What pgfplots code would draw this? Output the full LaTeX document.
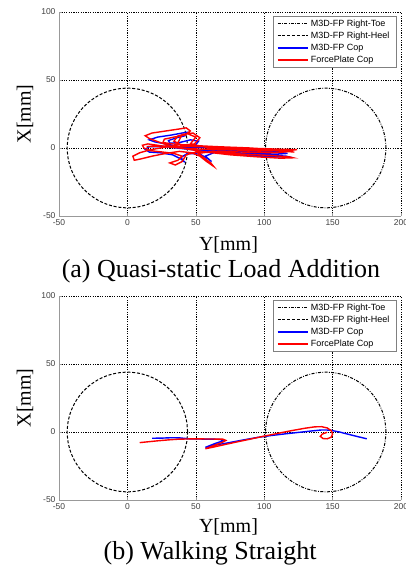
\documentclass[border=0pt]{standalone}
\usepackage{fontspec}
\setmainfont{Liberation Serif}
\setsansfont{Liberation Sans}
\usepackage{pgfplots}
\pgfplotsset{compat=1.18}

% circle outlines of the two sensors (radius 44 mm)
\pgfplotstableread{
x y
44 0
43.33 7.64
41.35 15.05
38.11 22
33.71 28.28
28.28 33.71
22 38.11
15.05 41.35
7.64 43.33
0 44
-7.64 43.33
-15.05 41.35
-22 38.11
-28.28 33.71
-33.71 28.28
-38.11 22
-41.35 15.05
-43.33 7.64
-44 0
-43.33 -7.64
-41.35 -15.05
-38.11 -22
-33.71 -28.28
-28.28 -33.71
-22 -38.11
-15.05 -41.35
-7.64 -43.33
0 -44
7.64 -43.33
15.05 -41.35
22 -38.11
28.28 -33.71
33.71 -28.28
38.11 -22
41.35 -15.05
43.33 -7.64
44 0
}\heel
\pgfplotstableread{
x y
189 0
188.33 7.64
186.35 15.05
183.11 22
178.71 28.28
173.28 33.71
167 38.11
160.05 41.35
152.64 43.33
145 44
137.36 43.33
129.95 41.35
123 38.11
116.72 33.71
111.29 28.28
106.89 22
103.65 15.05
101.67 7.64
101 0
101.67 -7.64
103.65 -15.05
106.89 -22
111.29 -28.28
116.72 -33.71
123 -38.11
129.95 -41.35
137.36 -43.33
145 -44
152.64 -43.33
160.05 -41.35
167 -38.11
173.28 -33.71
178.71 -28.28
183.11 -22
186.35 -15.05
188.33 -7.64
189 0
}\toe

\pgfplotsset{
  footplot/.style={
    scale only axis, width=342pt, height=204pt,
    xmin=-50, xmax=200, ymin=-50, ymax=100,
    xtick={-50,0,50,100,150,200}, xticklabels={-50,0,50,100,150,200},
    ytick={-50,0,50,100}, yticklabels={-50,0,50,100},
    axis lines=left, axis line style={-, gray!80, line width=0.6pt},
    grid=major, grid style={black, line width=0.5pt, dash pattern=on 1.2pt off 1.2pt},
    tick align=inside, major tick length=3pt, tick style={gray!80, line width=0.5pt},
    tick label style={font=\sffamily\fontsize{8.5}{10}\selectfont, text=black!75},
    xlabel={Y[mm]}, ylabel={X[mm]},
    label style={font=\fontsize{20}{22}\selectfont},
    ylabel style={at={(axis description cs:-0.0994,0.5)}, anchor=center},
    title style={font=\fontsize{26}{28}\selectfont, anchor=base, yshift=0pt},
    legend style={at={(1,1)}, anchor=north east, xshift=-5pt, yshift=-4pt,
      draw=gray, font=\sffamily\fontsize{9}{10}\selectfont, row sep=0pt,
      inner xsep=4pt, inner ysep=1.5pt,
      nodes={inner xsep=2.5pt, inner ysep=1.8pt, text height=6.6pt, text depth=1.9pt}},
    legend cell align=left,
    legend image code/.code={\draw[##1] (0pt,0pt) -- (30pt,0pt);},
  },
}

\begin{document}
\begin{tikzpicture}
\useasboundingbox (0,0) rectangle (406pt,568pt);

\begin{axis}[footplot, at={(59pt,352pt)}, anchor=south west,
  xlabel style={at={(axis description cs:0.4956,-0.1667)}, anchor=base},
  title={(a) Quasi-static Load Addition},
  title style={at={(axis description cs:0.4737,-0.33)}}]
\addplot[black, line width=1pt, smooth, dash pattern=on 3pt off 1.4pt on 0.8pt off 1.4pt] table {\toe};
\addplot[black, line width=1pt, smooth, dash pattern=on 3pt off 1.8pt] table {\heel};
\addplot[blue, line width=1.4pt] coordinates {
(15,1) (30,1) (50,0.5) (75,0) (100,-1) (117,-2) (110,-2.8) (90,-2.5) (68,-2)
(50,-1.5) (36,0) (24,1.5) (16,1) (13,-1) (16,-3) (24,-3.5) (33,-5) (39,-8)
(42,-10.5) (39,-7) (44,-4) (53,-4.5) (59,-8) (61.5,-10) (57,-6) (63,-3.5)
(80,-4) (100,-5) (116,-6) (118,-6.5) (108,-6.5) (88,-5.5) (68,-3.5) (52,-1.5)
(40,0.5) (28,3) (20,4.5) (16,6) (22,8) (32,9.5) (40,11) (43.5,11.5) (42,9)
(36,7.5) (30,5.5) (31,3.5) (38,4) (46,6) (52,5) (50,2.5) (44,1.5) (60,0)
(85,-1.5) (105,-2.5) (117,-4) (110,-4.5) (90,-4) (70,-3)};
\addplot[red, line width=1.4pt] coordinates {
(14,1) (25,1.5) (40,1.2) (60,0.8) (80,0.2) (100,-0.5) (115,-1) (124,-1.2)
(117,-2) (100,-2) (80,-1.5) (60,-1) (45,-0.5) (32,0.5) (22,2) (15,3) (11,2)
(12,0) (17,-2) (26,-3) (34,-4) (40,-6) (37,-9) (31,-11) (35,-12.5) (40,-10)
(43,-5) (50,-3) (65,-3.5) (85,-4.5) (105,-5.5) (118,-6.5) (121,-7.2) (112,-7.5)
(95,-6.5) (75,-5) (58,-3) (45,-1) (33,1) (24,4) (16,7) (13,9) (18,11)
(28,12.5) (38,14) (43,14.8) (46,12.5) (42,9.5) (34,8) (27,6.5) (26,4) (33,3)
(45,2) (65,1) (90,0) (110,-1.5) (120,-2.5) (108,-3.5) (85,-3) (62,-2.5)
(52,-4) (57,-8) (61,-11) (63,-13.5) (58,-10) (53,-6) (47,-3.5) (38,-2.5)
(28,-4) (18,-6) (10,-8) (5,-9) (4,-6) (9,-3.5) (16,-1.5) (24,0) (36,2)
(38,6) (40,10) (48,11) (53,7.5) (49,3) (40,2) (34,5) (37,9) (44,10.5)
(50,8) (46,3) (60,0) (85,-1) (110,-2) (122,-3)};
\legend{M3D-FP Right-Toe, M3D-FP Right-Heel, M3D-FP Cop, ForcePlate Cop}
\end{axis}

\begin{axis}[footplot, at={(59pt,68pt)}, anchor=south west,
  xlabel style={at={(axis description cs:0.4956,-0.159)}, anchor=base},
  title={(b) Walking Straight},
  title style={at={(axis description cs:0.442,-0.32)}}]
\addplot[black, line width=1pt, smooth, dash pattern=on 3pt off 1.4pt on 0.8pt off 1.4pt] table {\toe};
\addplot[black, line width=1pt, smooth, dash pattern=on 3pt off 1.8pt] table {\heel};
\addplot[blue, line width=1.4pt] coordinates {
(18,-4.6) (25,-4.5) (32,-4.2) (38,-4.3) (45,-5) (55,-5.2) (65,-5.3) (69,-5.6)
(70,-6.5) (64,-8.5) (57,-11.3) (65,-9.5) (75,-7.7) (85,-5.8) (95,-4)
(105,-2.6) (115,-1.4) (125,-0.3) (135,0.8) (142,1.5) (148,1.4) (155,0)
(162,-1.8) (168,-3.3) (175,-5)};
\addplot[red, line width=1.4pt] coordinates {
(9,-7.8) (15,-7.2) (22,-6.5) (30,-5.8) (37,-5.3) (45,-5.1) (55,-5.1) (65,-5.2)
(70,-5.3) (72,-6.2) (69,-7.8) (63,-10) (57,-12.3) (62,-11.3) (70,-9.5)
(80,-7.3) (90,-5.2) (100,-3) (110,-1) (120,1) (130,2.8) (137,3.8) (142,3.9)
(146,3) (149,1) (150,-1.5) (149,-3.8) (146,-5) (143,-4.8) (141,-3.2)
(142.5,-1.5) (146,-0.2)};
\legend{M3D-FP Right-Toe, M3D-FP Right-Heel, M3D-FP Cop, ForcePlate Cop}
\end{axis}
\end{tikzpicture}
\end{document}
